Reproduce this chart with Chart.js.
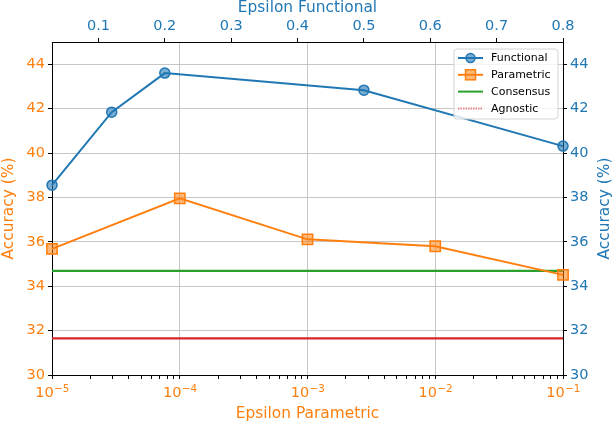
<!DOCTYPE html>
<html>
<head>
<meta charset="utf-8">
<script src="https://cdn.jsdelivr.net/npm/chart.js@4.4.1/dist/chart.umd.min.js"></script>
<style>
  body { margin: 0; background: #fff; }
  #wrap { width: 614px; height: 424px; }
</style>
</head>
<body>
<div id="wrap"><canvas id="accChart" width="614" height="424"></canvas></div>

<script>
    // values
    const paramEps = [1e-5, 1e-4, 1e-3, 1e-2, 1e-1];
    const paramAcc = [35.68, 37.96, 36.11, 35.80, 34.51];
    const funcEps = [0.03, 0.12, 0.2, 0.5, 0.8];
    const funcAcc = [38.55, 41.84, 43.60, 42.83, 40.31];
    const consensusAcc = 34.69;
    const agnosticAcc = 31.65;

    const paramRange = [1e-5, 1e-1];
    const funcRange = [0.03, 0.8];
    const accRange = [30, 45];
    const accTicks = [30, 32, 34, 36, 38, 40, 42, 44];
    const funcTicks = [0.1, 0.2, 0.3, 0.4, 0.5, 0.6, 0.7, 0.8];
    const paramDecades = [-5, -4, -3, -2, -1];

    const BLUE = '#1f77b4', ORANGE = '#ff7f0e', GREEN = '#2ca02c', RED = '#d62728';
    const FONT = 'DejaVu Sans';
    const GRID = '#c6c6c6';
    const TICK_SIZE = 14.5, TITLE_SIZE = 15.4;

    // log ticks: decades plus 2..9 minor ticks
    const paramTicks = [];
    paramDecades.forEach((d, i) => {
        paramTicks.push(Math.pow(10, d));
        if (i < paramDecades.length - 1) {
            for (let m = 2; m <= 9; m++) paramTicks.push(m * Math.pow(10, d));
        }
    });
    const isDecade = v => Math.abs(Math.log10(v) - Math.round(Math.log10(v))) < 1e-9;

    // 10^n labels drawn with a real raised exponent, like mathtext
    const powerLabels = {
        id: 'powerLabels',
        afterDraw(chart) {
            const ctx = chart.ctx;
            const sx = chart.scales.x;
            const baseY = sx.top + 22;
            ctx.save();
            ctx.fillStyle = ORANGE;
            ctx.textBaseline = 'alphabetic';
            ctx.textAlign = 'left';
            paramDecades.forEach(d => {
                const px = sx.getPixelForValue(Math.pow(10, d));
                const base = '10', exp = '\u2212' + Math.abs(d);
                ctx.font = TICK_SIZE + 'px "' + FONT + '"';
                const wb = ctx.measureText(base).width;
                ctx.font = '10.3px "' + FONT + '"';
                const we = ctx.measureText(exp).width;
                const x0 = px - (wb + we) / 2;
                ctx.font = TICK_SIZE + 'px "' + FONT + '"';
                ctx.fillText(base, x0, baseY);
                ctx.font = '10.3px "' + FONT + '"';
                ctx.fillText(exp, x0 + wb + 0.5, baseY - 5.5);
            });
            ctx.restore();
        }
    };

    const legendItems = [
        { label: 'Functional', color: BLUE, marker: 'circle' },
        { label: 'Parametric', color: ORANGE, marker: 'rect' },
        { label: 'Consensus', color: GREEN },
        { label: 'Agnostic', color: 'rgba(214,39,40,0.55)', dash: [1.5, 1] }
    ];

    const boxLegend = {
        id: 'boxLegend',
        afterDatasetsDraw(chart) {
            const ctx = chart.ctx;
            const a = chart.chartArea;
            const bx = a.right - 109, by = a.top + 7, bw = 104, bh = 70;
            ctx.save();
            ctx.beginPath();
            ctx.roundRect(bx, by, bw, bh, 3);
            ctx.fillStyle = 'rgba(255,255,255,0.8)';
            ctx.fill();
            ctx.strokeStyle = '#d4d4d4';
            ctx.lineWidth = 1;
            ctx.stroke();
            legendItems.forEach((it, i) => {
                const y = by + 9 + i * 16.8;
                const x0 = bx + 4, x1 = bx + 29;
                ctx.strokeStyle = it.color;
                ctx.lineWidth = 2;
                ctx.setLineDash(it.dash || []);
                ctx.beginPath();
                ctx.moveTo(x0, y);
                ctx.lineTo(x1, y);
                ctx.stroke();
                ctx.setLineDash([]);
                const cx = (x0 + x1) / 2;
                if (it.marker === 'circle') {
                    ctx.beginPath();
                    ctx.arc(cx, y, 4.5, 0, Math.PI * 2);
                    ctx.fillStyle = 'rgba(31,119,180,0.6)';
                    ctx.fill();
                    ctx.lineWidth = 1.5;
                    ctx.stroke();
                } else if (it.marker === 'rect') {
                    ctx.fillStyle = 'rgba(255,127,14,0.55)';
                    ctx.fillRect(cx - 5, y - 5, 10, 10);
                    ctx.lineWidth = 1.5;
                    ctx.strokeRect(cx - 5, y - 5, 10, 10);
                }
                ctx.fillStyle = '#000';
                ctx.font = '11px "' + FONT + '"';
                ctx.textBaseline = 'middle';
                ctx.textAlign = 'left';
                ctx.fillText(it.label, bx + 37, y + 0.5);
            });
            ctx.restore();
        }
    };

    // right axis title reads bottom-to-top like matplotlib
    const rightTitle = {
        id: 'rightTitle',
        afterDraw(chart) {
            const ctx = chart.ctx;
            const a = chart.chartArea;
            ctx.save();
            ctx.translate(605, (a.top + a.bottom) / 2);
            ctx.rotate(-Math.PI / 2);
            ctx.fillStyle = BLUE;
            ctx.font = TITLE_SIZE + 'px "' + FONT + '"';
            ctx.textAlign = 'center';
            ctx.textBaseline = 'middle';
            ctx.fillText('Accuracy (%)', 0, 0);
            ctx.restore();
        }
    };

    const ctx = document.getElementById('accChart').getContext('2d');
    new Chart(ctx, {
        type: 'line',
        data: {
            datasets: [
                {
                    label: 'Agnostic',
                    data: paramRange.map(x => ({ x: x, y: agnosticAcc })),
                    xAxisID: 'x', yAxisID: 'y',
                    borderColor: RED, borderWidth: 2.2, pointRadius: 0, order: 4
                },
                {
                    label: 'Consensus',
                    data: paramRange.map(x => ({ x: x, y: consensusAcc })),
                    xAxisID: 'x', yAxisID: 'y',
                    borderColor: GREEN, borderWidth: 2.2, pointRadius: 0, order: 3
                },
                {
                    label: 'Parametric',
                    data: paramEps.map((x, i) => ({ x: x, y: paramAcc[i] })),
                    xAxisID: 'x', yAxisID: 'y',
                    borderColor: ORANGE, borderWidth: 2,
                    pointStyle: 'rect', pointRadius: 7.3,
                    pointBackgroundColor: 'rgba(255,127,14,0.55)',
                    pointBorderColor: ORANGE, pointBorderWidth: 1.5,
                    clip: false, order: 2
                },
                {
                    label: 'Functional',
                    data: funcEps.map((x, i) => ({ x: x, y: funcAcc[i] })),
                    xAxisID: 'x2', yAxisID: 'y2',
                    borderColor: BLUE, borderWidth: 2,
                    pointStyle: 'circle', pointRadius: 5,
                    pointBackgroundColor: 'rgba(31,119,180,0.6)',
                    pointBorderColor: BLUE, pointBorderWidth: 1.5,
                    clip: false, order: 1
                }
            ]
        },
        options: {
            responsive: false,
            animation: false,
            layout: { padding: 0 },
            plugins: { legend: { display: false }, tooltip: { enabled: false } },
            scales: {
                x: {
                    type: 'logarithmic', position: 'bottom',
                    min: paramRange[0], max: paramRange[1],
                    afterBuildTicks: s => { s.ticks = paramTicks.map(v => ({ value: v })); },
                    afterFit: s => { s.height = 49; },
                    ticks: {
                        autoSkip: false, maxRotation: 0,
                        font: { family: FONT, size: TICK_SIZE },
                        callback: () => ''
                    },
                    grid: {
                        color: c => (c.tick && isDecade(c.tick.value)) ? GRID : 'rgba(0,0,0,0)',
                        tickColor: '#000', tickLength: 4, lineWidth: 1
                    },
                    border: { color: '#000', width: 1 },
                    title: {
                        display: true, text: 'Epsilon Parametric', color: ORANGE,
                        font: { family: FONT, size: TITLE_SIZE }, padding: { top: 0, bottom: 1 }
                    }
                },
                x2: {
                    type: 'linear', position: 'top',
                    min: funcRange[0], max: funcRange[1],
                    afterBuildTicks: s => { s.ticks = funcTicks.map(v => ({ value: v })); },
                    afterFit: s => { s.height = 42; },
                    ticks: {
                        autoSkip: false, maxRotation: 0, padding: 3,
                        color: BLUE, font: { family: FONT, size: TICK_SIZE },
                        callback: v => v.toFixed(1)
                    },
                    grid: { drawOnChartArea: false, tickColor: '#000', tickLength: 4 },
                    border: { color: '#000', width: 1 },
                    title: {
                        display: true, text: 'Epsilon Functional', color: BLUE,
                        font: { family: FONT, size: TITLE_SIZE }, padding: { top: -1, bottom: 0 }
                    }
                },
                y: {
                    type: 'linear', position: 'left',
                    min: accRange[0], max: accRange[1],
                    afterBuildTicks: s => { s.ticks = accTicks.map(v => ({ value: v })); },
                    afterFit: s => { s.width = 52; },
                    ticks: { padding: 3, color: ORANGE, font: { family: FONT, size: TICK_SIZE } },
                    grid: { color: GRID, tickColor: '#000', tickLength: 4, lineWidth: 1 },
                    border: { color: '#000', width: 1 },
                    title: {
                        display: true, text: 'Accuracy (%)', color: ORANGE,
                        font: { family: FONT, size: TITLE_SIZE }, padding: { top: 0, bottom: 0 }
                    }
                },
                y2: {
                    type: 'linear', position: 'right',
                    min: accRange[0], max: accRange[1],
                    afterBuildTicks: s => { s.ticks = accTicks.map(v => ({ value: v })); },
                    afterFit: s => { s.width = 51; },
                    ticks: { padding: 3, color: BLUE, font: { family: FONT, size: TICK_SIZE } },
                    grid: { drawOnChartArea: false, tickColor: '#000', tickLength: 4 },
                    border: { color: '#000', width: 1 }
                }
            }
        },
        plugins: [boxLegend, rightTitle, powerLabels]
    });
</script>
</body>
</html>
